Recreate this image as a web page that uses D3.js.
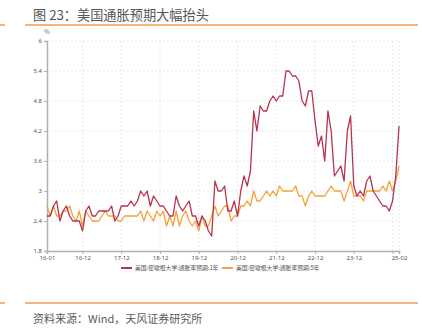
<!DOCTYPE html>
<html>
<head>
<meta charset="utf-8">
<script src="https://cdn.jsdelivr.net/npm/d3@7"></script>
<style>
  html, body { margin: 0; padding: 0; background: #fff; }
  svg { display: block; font-family: "Noto Sans CJK SC", "Noto Sans", sans-serif; }
</style>
</head>
<body>
<svg id="chart" width="422" height="328"></svg>
<script>
// Monthly observations, 2016-01 .. 2025-02
const startMonth = new Date(2016, 0, 1);
const endMonth = new Date(2025, 1, 1);

// University of Michigan survey: 1-year-ahead expected inflation (%)
const expect1y = [
  2.5, 2.5, 2.7, 2.8, 2.4, 2.6, 2.7, 2.5, 2.4, 2.4, 2.4, 2.2,
  2.6, 2.7, 2.5, 2.5, 2.6, 2.6, 2.6, 2.6, 2.7, 2.4, 2.5, 2.7,
  2.7, 2.7, 2.8, 2.7, 2.8, 3.0, 2.9, 3.0, 2.7, 2.9, 2.8, 2.7,
  2.7, 2.6, 2.5, 2.5, 2.9, 2.7, 2.6, 2.7, 2.8, 2.5, 2.5, 2.3,
  2.5, 2.4, 2.2, 2.1, 3.2, 3.0, 3.0, 3.1, 2.6, 2.6, 2.8, 2.5,
  3.0, 3.3, 3.1, 3.4, 4.6, 4.2, 4.7, 4.6, 4.6, 4.8, 4.9, 4.8,
  4.9, 4.9, 5.4, 5.4, 5.3, 5.3, 5.2, 4.8, 4.7, 5.0, 5.0, 4.4,
  3.9, 4.1, 3.6, 4.6, 4.2, 3.3, 3.4, 3.5, 3.2, 4.2, 4.5, 3.1,
  2.9, 3.0, 2.9, 3.2, 3.3, 3.0, 2.9, 2.8, 2.7, 2.7, 2.6, 2.8,
  3.3, 4.3
];

// University of Michigan survey: 5-year-ahead expected inflation (%)
const expect5y = [
  2.7, 2.5, 2.7, 2.5, 2.5, 2.6, 2.6, 2.7, 2.5, 2.4, 2.6, 2.3,
  2.6, 2.5, 2.4, 2.4, 2.4, 2.5, 2.6, 2.5, 2.5, 2.5, 2.4, 2.4,
  2.5, 2.5, 2.5, 2.5, 2.5, 2.6, 2.4, 2.6, 2.5, 2.4, 2.6, 2.5,
  2.6, 2.3, 2.5, 2.3, 2.6, 2.3, 2.5, 2.6, 2.4, 2.3, 2.4, 2.2,
  2.5, 2.3, 2.3, 2.5, 2.7, 2.5, 2.6, 2.7, 2.7, 2.4, 2.5, 2.5,
  2.7, 2.7, 2.8, 2.7, 3.0, 2.8, 2.8, 2.9, 3.0, 2.9, 3.0, 2.9,
  3.1, 3.0, 3.0, 3.0, 3.0, 3.1, 2.9, 2.9, 2.7, 2.9, 3.0, 2.9,
  2.9, 2.9, 2.9, 3.0, 3.1, 3.0, 3.0, 3.0, 2.8, 3.0, 3.2, 2.9,
  2.9, 2.9, 2.8, 3.0, 3.0, 3.0, 3.0, 3.0, 3.1, 3.0, 3.2, 3.0,
  3.2, 3.5
];

const seriesNames = ["美国:密歇根大学:通胀率预期:1年", "美国:密歇根大学:通胀率预期:5年"];
const seriesColors = ["#b7334f", "#f8a03a"];

const xTickLabels = ["16-01", "16-12", "17-12", "18-12", "19-12", "20-12",
                     "21-12", "22-12", "23-12", "24-12", "25-02"];
const yTicks = [1.8, 2.4, 3, 3.6, 4.2, 4.8, 5.4, 6];

const titleText = "图 23：美国通胀预期大幅抬头";
const sourceText = "资料来源：Wind，天风证券研究所";
const unitText = "%";

const fmtMonth = d3.timeFormat("%y-%m");
const months = d3.timeMonth.range(startMonth, d3.timeMonth.offset(endMonth, 1)).map(fmtMonth);

const svg = d3.select("#chart");
const plot = { left: 47, right: 399, top: 41, bottom: 251 };

const x = d3.scalePoint().domain(months).range([plot.left, plot.right]);
const y = d3.scaleLinear().domain([1.8, 6]).range([plot.bottom, plot.top]);

// Header and footer rules
const accent = "#f19a4c";
[25, 303].forEach(yy => {
  svg.append("line").attr("x1", 25).attr("x2", 418).attr("y1", yy).attr("y2", yy)
    .attr("stroke", accent).attr("stroke-width", 1.5);
  svg.append("line").attr("x1", 0).attr("x2", 5).attr("y1", yy).attr("y2", yy)
    .attr("stroke", accent).attr("stroke-width", 1.5);
});

svg.append("text").attr("x", 33).attr("y", 19.5)
  .attr("font-size", 13.2).attr("fill", "#555")
  .text(titleText);

svg.append("text").attr("x", 33).attr("y", 323)
  .attr("font-size", 11).attr("fill", "#5a5a5a")
  .text(sourceText);

// Grid
const grid = svg.append("g").attr("stroke", "#e3e3e3").attr("stroke-width", 0.8)
  .attr("stroke-dasharray", "2,2");
yTicks.filter(v => v !== 1.8).forEach(v => {
  grid.append("line").attr("x1", plot.left).attr("x2", plot.right)
    .attr("y1", y(v)).attr("y2", y(v));
});
xTickLabels.filter((m, i) => i > 0).forEach(m => {
  grid.append("line").attr("x1", x(m)).attr("x2", x(m))
    .attr("y1", plot.top).attr("y2", plot.bottom);
});

// Axes
const yAxis = svg.append("g").attr("transform", `translate(${plot.left},0)`)
  .call(d3.axisLeft(y).tickValues(yTicks).tickSize(3).tickPadding(2)
    .tickFormat(d => d3.format("~g")(d)));
const xAxis = svg.append("g").attr("transform", `translate(0,${plot.bottom})`)
  .call(d3.axisBottom(x).tickValues(xTickLabels).tickSize(3).tickPadding(2)
    .tickFormat((d, i) => {
      const next = xTickLabels[i + 1];
      return next && x(next) - x(d) < 20 ? "" : d;
    }));
[yAxis, xAxis].forEach(g => {
  g.select(".domain").attr("stroke", "#b0b0b0").attr("stroke-width", 1.5);
  g.selectAll(".tick line").attr("stroke", "#b0b0b0");
  g.selectAll(".tick text").attr("fill", "#555").attr("font-size", 6)
    .attr("font-family", "'Noto Sans', sans-serif");
});

svg.append("text").attr("x", plot.left).attr("y", 33.5).attr("text-anchor", "middle")
  .attr("font-size", 6).attr("fill", "#666").text(unitText);

// Series lines (5-year drawn first so the 1-year line sits on top)
const line = d3.line().x((d, i) => x(months[i])).y(d => y(d));
[[expect5y, 1], [expect1y, 0]].forEach(([vals, idx]) => {
  svg.append("path").datum(vals)
    .attr("fill", "none").attr("stroke", seriesColors[idx])
    .attr("stroke-width", 1.3).attr("stroke-linejoin", "round")
    .attr("d", line);
});

// Legend
const legendX = [121, 222];
seriesNames.forEach((name, i) => {
  const g = svg.append("g").attr("transform", `translate(${legendX[i]},268)`);
  g.append("line").attr("x1", 0).attr("x2", 11).attr("stroke", seriesColors[i]).attr("stroke-width", 2);
  g.append("text").attr("x", 14).attr("y", 2).attr("font-size", 5.8).attr("fill", "#555").text(name);
});
</script>
</body>
</html>
